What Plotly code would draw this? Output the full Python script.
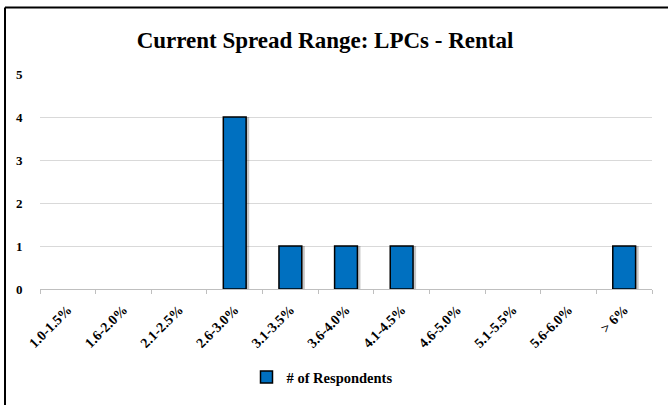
import plotly.graph_objects as go

# --- DATA ---
ranges = ["1.0-1.5%", "1.6-2.0%", "2.1-2.5%", "2.6-3.0%", "3.1-3.5%", "3.6-4.0%",
          "4.1-4.5%", "4.6-5.0%", "5.1-5.5%", "5.6-6.0%", "> 6%"]
respondents = [0, 0, 0, 4, 1, 1, 1, 0, 0, 0, 1]
y_ticks = [0, 1, 2, 3, 4, 5]

FONT = "Liberation Serif"

# zero counts draw no bar (no outline at the baseline)
bar_vals = [v if v else None for v in respondents]

fig = go.Figure()

# soft drop shadow behind bars
fig.add_trace(go.Bar(
    x=ranges,
    y=bar_vals,
    width=0.42,
    offset=-0.16,
    marker=dict(color="rgba(0,0,0,0.22)", line=dict(width=0)),
    showlegend=False,
    hoverinfo="skip",
))

fig.add_trace(go.Bar(
    x=ranges,
    y=bar_vals,
    width=0.41,
    offset=-0.205,
    name="<b># of Respondents</b>",
    marker=dict(color="#0070C0", line=dict(color="black", width=1.5)),
))

PLOT_H = 405 - 74 - 114
TOP_LINE_Y = (405 - 7 - 114) / PLOT_H
LEFT_LINE_X = -35 / 612

# --- LAYOUT ---
fig.update_layout(
    width=668,
    height=405,
    barmode="overlay",
    paper_bgcolor="white",
    plot_bgcolor="white",
    margin=dict(l=40, r=16, t=74, b=114),
    font=dict(family=FONT, color="black"),
    title=dict(
        text="<b>Current Spread Range: LPCs - Rental</b>",
        x=325 / 668, xanchor="center",
        y=1 - 40 / 405, yanchor="middle",
        font=dict(family=FONT, size=23, color="black"),
    ),
    showlegend=True,
    legend=dict(
        orientation="h",
        x=(322 - 40) / 612, xanchor="center",
        y=-0.41, yanchor="middle",
        font=dict(family=FONT, size=14.5, color="black"),
    ),
    shapes=[
        # chart frame (only top and left edges are visible in the original)
        dict(type="line", xref="paper", yref="paper",
             x0=LEFT_LINE_X, x1=1.1, y0=TOP_LINE_Y, y1=TOP_LINE_Y,
             line=dict(color="black", width=2)),
        dict(type="line", xref="paper", yref="paper",
             x0=LEFT_LINE_X, x1=LEFT_LINE_X, y0=-0.6, y1=TOP_LINE_Y,
             line=dict(color="black", width=2)),
    ],
)

fig.update_xaxes(
    type="category",
    automargin=False,
    tickangle=-45,
    tickson="boundaries",
    ticks="outside",
    ticklen=4,
    tickcolor="#bfbfbf",
    ticklabelstandoff=6,
    showline=True,
    linecolor="#bfbfbf",
    linewidth=1,
    showgrid=False,
    tickfont=dict(family=FONT, size=14, color="black", weight="bold"),
)

fig.update_yaxes(
    range=[0, 5],
    automargin=False,
    tickvals=y_ticks,
    showgrid=True,
    gridcolor="#d9d9d9",
    gridwidth=1,
    zeroline=False,
    showline=False,
    # invisible ticks push the labels out to the frame edge
    ticks="outside",
    ticklen=14,
    tickcolor="rgba(0,0,0,0)",
    tickfont=dict(family=FONT, size=13, color="black", weight="bold"),
)

# drop the browser's default 8px body margin so the figure sits at the page origin
fig.write_html(
    "out.html",
    config={"displayModeBar": False},
    post_script="document.body.style.margin='0';",
)
